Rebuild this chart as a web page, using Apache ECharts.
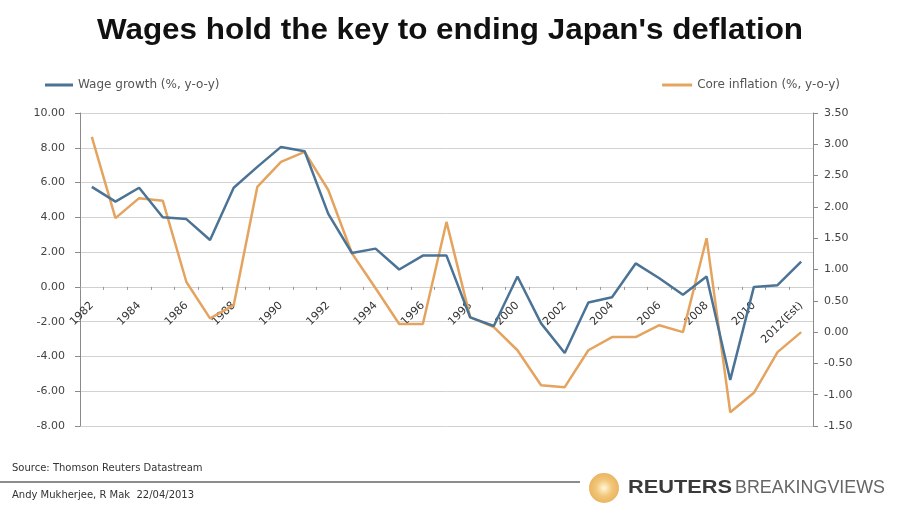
<!DOCTYPE html>
<html>
<head>
<meta charset="utf-8">
<script src="https://cdn.jsdelivr.net/npm/echarts@6/dist/echarts.min.js"></script>
<style>
  html, body { margin: 0; padding: 0; background: #ffffff; }
  #chart { width: 900px; height: 522px; }
</style>
</head>
<body>
<div id="chart"></div>
<script>
var years = ['1982','1983','1984','1985','1986','1987','1988','1989','1990','1991',
             '1992','1993','1994','1995','1996','1997','1998','1999','2000','2001',
             '2002','2003','2004','2005','2006','2007','2008','2009','2010','2011','2012(Est)'];
var wageGrowth = [5.75, 4.9, 5.7, 4.0, 3.9, 2.7, 5.7, 6.9, 8.05, 7.8,
                  4.2, 1.95, 2.2, 1.0, 1.8, 1.8, -1.75, -2.25, 0.6, -2.1,
                  -3.8, -0.9, -0.6, 1.35, 0.5, -0.45, 0.6, -5.35, 0.0, 0.1, 1.45];
var coreInflation = [3.12, 1.82, 2.14, 2.1, 0.8, 0.22, 0.43, 2.32, 2.72, 2.88,
                     2.27, 1.26, 0.7, 0.13, 0.13, 1.76, 0.24, 0.08, -0.29, -0.85,
                     -0.88, -0.29, -0.08, -0.08, 0.11, 0.0, 1.5, -1.28, -0.97, -0.32, 0.0];
var leftAxis = { min: -8, max: 10, interval: 2 };
var rightAxis = { min: -1.5, max: 3.5, interval: 0.5 };
var wageName = 'Wage growth (%, y-o-y)';
var coreName = 'Core inflation (%, y-o-y)';
var titleText = "Wages hold the key to ending Japan's deflation";

var FONT = '"Liberation Sans", Arial, sans-serif';
var SMALL = '"DejaVu Sans", Verdana, sans-serif';
var BLUE = '#4b7395';
var ORANGE = '#e4a45f';

var GRID = { left: 80, right: 87, top: 113, bottom: 96 };
var plotH = 522 - GRID.top - GRID.bottom;
var zeroOffset = -plotH * (0 - leftAxis.min) / (leftAxis.max - leftAxis.min);

function measure(txt, font) {
  var c = document.createElement('canvas').getContext('2d');
  c.font = font;
  return c.measureText(txt).width;
}
var titleFont = 'bold 29px "Liberation Sans"';
var titleScale = 706 / measure(titleText, titleFont);
var reutersFont = 'bold 18px "Liberation Sans"';
var reutersScale = 104 / measure('REUTERS', reutersFont);
var bvFont = '18px "Liberation Sans"';
var bvScale = 150 / measure('BREAKINGVIEWS', bvFont);

var chart = echarts.init(document.getElementById('chart'), null, { renderer: 'canvas' });
chart.setOption({
  backgroundColor: '#ffffff',
  animation: false,
  textStyle: { fontFamily: FONT },
  legend: [
    {
      data: [wageName], left: 40, top: 74, icon: 'rect', itemWidth: 28, itemHeight: 3, itemGap: 4,
      textStyle: { fontFamily: SMALL, fontSize: 12, color: '#555555' }
    },
    {
      data: [coreName], right: 55, top: 74, icon: 'rect', itemWidth: 30, itemHeight: 3, itemGap: 4,
      textStyle: { fontFamily: SMALL, fontSize: 12, color: '#555555' }
    }
  ],
  grid: { left: GRID.left, right: GRID.right, top: GRID.top, bottom: GRID.bottom, containLabel: false },
  xAxis: {
    type: 'category',
    data: years,
    boundaryGap: true,
    position: 'bottom',
    offset: zeroOffset,
    axisLine: { show: true, onZero: false, lineStyle: { color: '#d0d0d0', width: 1 } },
    axisTick: { show: true, interval: 0, length: 3, lineStyle: { color: '#999999' } },
    axisLabel: { interval: 1, rotate: 45, margin: 17, fontFamily: SMALL, fontSize: 11, color: '#333333' },
    splitLine: { show: false }
  },
  yAxis: [
    {
      type: 'value', min: leftAxis.min, max: leftAxis.max, interval: leftAxis.interval,
      position: 'left',
      axisLine: { show: true, onZero: false, lineStyle: { color: '#8a8a8a', width: 1 } },
      axisTick: { show: true, length: 5, lineStyle: { color: '#8a8a8a' } },
      axisLabel: { margin: 15, fontFamily: SMALL, fontSize: 11, color: '#444444',
                   formatter: function (v) { return v.toFixed(2); } },
      splitLine: { show: true, lineStyle: { color: '#d2d2d2', width: 1 } }
    },
    {
      type: 'value', min: rightAxis.min, max: rightAxis.max, interval: rightAxis.interval,
      position: 'right',
      axisLine: { show: true, onZero: false, lineStyle: { color: '#8a8a8a', width: 1 } },
      axisTick: { show: true, length: 5, lineStyle: { color: '#8a8a8a' } },
      axisLabel: { margin: 11, fontFamily: SMALL, fontSize: 11, color: '#444444',
                   formatter: function (v) { return v.toFixed(2); } },
      splitLine: { show: false }
    }
  ],
  series: [
    {
      name: wageName, type: 'line', yAxisIndex: 0, data: wageGrowth,
      showSymbol: false, symbol: 'none', smooth: false,
      itemStyle: { color: BLUE },
      lineStyle: { color: BLUE, width: 2.5 },
      z: 3
    },
    {
      name: coreName, type: 'line', yAxisIndex: 1, data: coreInflation,
      showSymbol: false, symbol: 'none', smooth: false,
      itemStyle: { color: ORANGE },
      lineStyle: { color: ORANGE, width: 2.5 },
      z: 2
    }
  ],
  graphic: [
    {
      type: 'text', x: 450, y: 31, scaleX: titleScale, originX: 0, originY: 0,
      style: { text: titleText, font: titleFont, fill: '#111111', textAlign: 'center', textVerticalAlign: 'middle' }
    },
    {
      type: 'text', x: 12, y: 468,
      style: { text: 'Source: Thomson Reuters Datastream', font: '10px ' + SMALL, fill: '#333333', textVerticalAlign: 'middle' }
    },
    {
      type: 'line', shape: { x1: 0, y1: 482, x2: 580, y2: 482 },
      style: { stroke: '#8c8c8c', lineWidth: 2 }
    },
    {
      type: 'text', x: 12, y: 495,
      style: { text: 'Andy Mukherjee, R Mak  22/04/2013', font: '10px ' + SMALL, fill: '#333333', textVerticalAlign: 'middle' }
    },
    {
      type: 'circle', shape: { cx: 604, cy: 488, r: 15 },
      style: {
        fill: new echarts.graphic.RadialGradient(0.5, 0.5, 0.5, [
          { offset: 0, color: '#fff6dc' },
          { offset: 0.55, color: '#f2c677' },
          { offset: 1, color: '#e9b563' }
        ])
      }
    },
    {
      type: 'text', x: 628, y: 488, scaleX: reutersScale,
      style: { text: 'REUTERS', font: reutersFont, fill: '#3a3a3a', textVerticalAlign: 'middle' }
    },
    {
      type: 'text', x: 735, y: 488, scaleX: bvScale,
      style: { text: 'BREAKINGVIEWS', font: bvFont, fill: '#666666', textVerticalAlign: 'middle' }
    }
  ]
});
</script>
</body>
</html>
